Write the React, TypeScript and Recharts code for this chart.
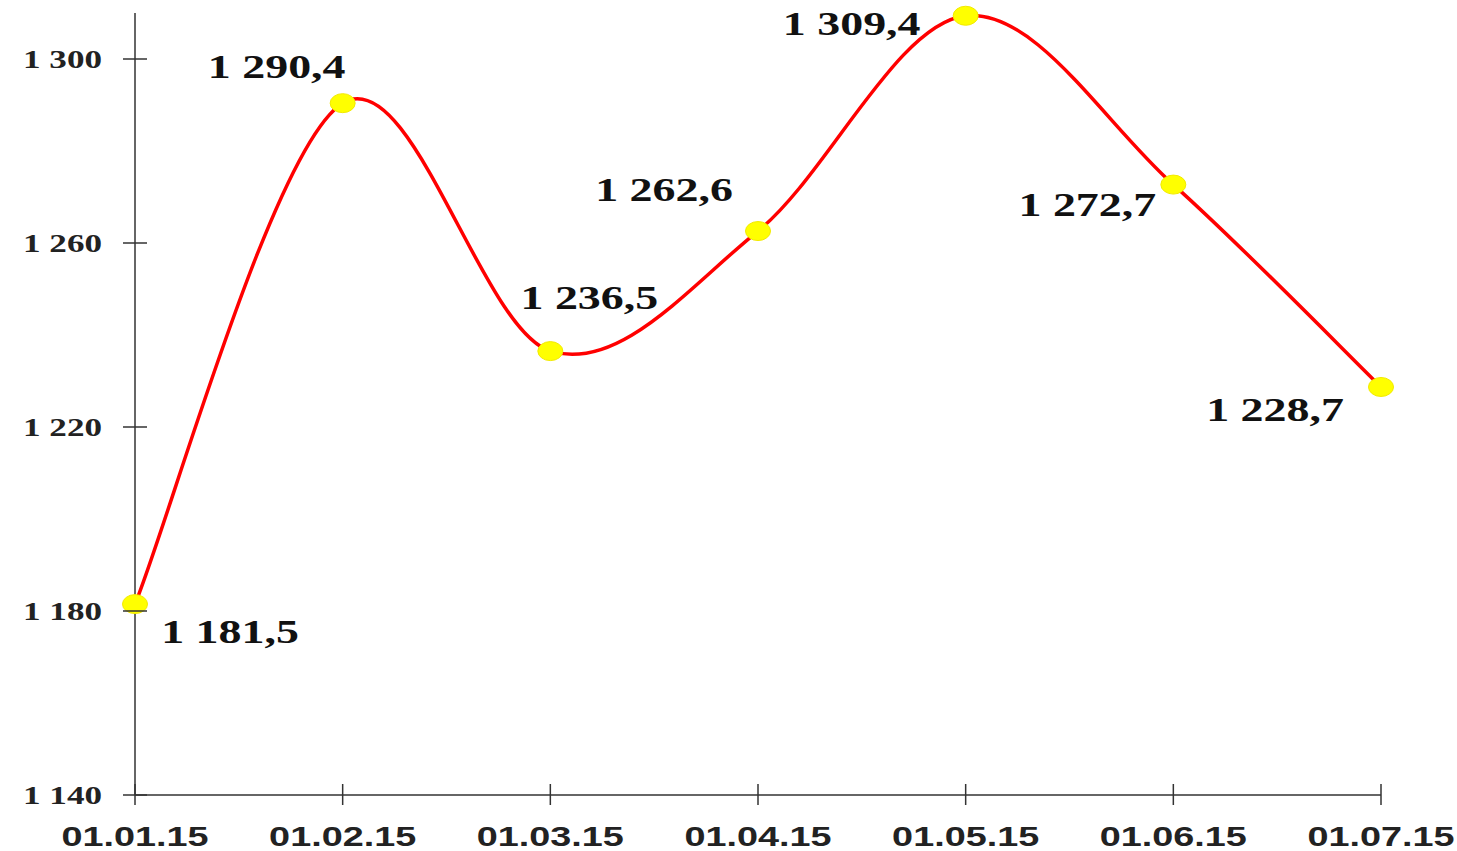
import { LineChart, Line, XAxis, YAxis, LabelList } from 'recharts';

// dates on the x axis and the values at each date
const dates = ['01.01.15', '01.02.15', '01.03.15', '01.04.15', '01.05.15', '01.06.15', '01.07.15'];
const values = [1181.5, 1290.4, 1236.5, 1262.6, 1309.4, 1272.7, 1228.7];
const yTicks = [1140, 1180, 1220, 1260, 1300];

// where each value label sits relative to its point (styling only)
const labelShift = [
  [95, 39],
  [-66, -25],
  [39, -42],
  [-94, -30],
  [-114, 19],
  [-86, 31],
  [-106, 34],
];

const data = dates.map((d, i) => ({ date: d, value: values[i] }));

const STRETCH = 1.35; // the source picture is stretched sideways
const AXIS = '#333';

// thousands with a space, decimals with a comma
const fmt = (v: number, digits: number) => {
  const [int, dec] = v.toFixed(digits).split('.');
  const withSpace = int.replace(/\B(?=(\d{3})+(?!\d))/g, ' ');
  return dec ? `${withSpace},${dec}` : withSpace;
};

// Excel-like smooth line (Catmull-Rom through each point)
const smoothCurve = (context: any) => {
  let pts: number[][] = [];
  return {
    areaStart() {},
    areaEnd() {},
    lineStart() {
      pts = [];
    },
    point(x: number, y: number) {
      pts.push([+x, +y]);
    },
    lineEnd() {
      if (!pts.length) return;
      context.moveTo(pts[0][0], pts[0][1]);
      for (let i = 0; i < pts.length - 1; i++) {
        const p0 = pts[i - 1] || pts[i];
        const p1 = pts[i];
        const p2 = pts[i + 1];
        const p3 = pts[i + 2] || p2;
        context.bezierCurveTo(
          p1[0] + (p2[0] - p0[0]) / 6,
          p1[1] + (p2[1] - p0[1]) / 6,
          p2[0] - (p3[0] - p1[0]) / 6,
          p2[1] - (p3[1] - p1[1]) / 6,
          p2[0],
          p2[1]
        );
      }
    },
  };
};

const XTick = ({ x, y, payload }: any) => (
  <g>
    <line x1={x} x2={x} y1={y - 11} y2={y + 10} stroke={AXIS} strokeWidth={1.5} />
    <text
      transform={`translate(${x},${y + 51}) scale(${STRETCH},1)`}
      textAnchor="middle"
      fontFamily="'Liberation Sans', Arial, sans-serif"
      fontWeight="bold"
      fontSize={28}
      fill="#222"
    >
      {payload.value}
    </text>
  </g>
);

const YTick = ({ x, y, payload }: any) => (
  <g>
    <line x1={x - 12} x2={x + 12} y1={y} y2={y} stroke={AXIS} strokeWidth={1.5} />
    <text
      transform={`translate(${x - 33},${y + 9}) scale(${STRETCH},1)`}
      textAnchor="end"
      fontFamily="'Liberation Serif', 'Times New Roman', serif"
      fontWeight="bold"
      fontSize={26}
      fill="#222"
    >
      {fmt(payload.value, 0)}
    </text>
  </g>
);

const ValueLabel = ({ x, y, value, index }: any) => {
  const [dx, dy] = labelShift[index] || [0, -20];
  return (
    <text
      transform={`translate(${x + dx},${y + dy}) scale(${STRETCH},1)`}
      textAnchor="middle"
      fontFamily="'Liberation Serif', 'Times New Roman', serif"
      fontWeight="bold"
      fontSize={34}
      fill="#111"
    >
      {fmt(value, 1)}
    </text>
  );
};

const YellowDot = ({ cx, cy, index }: any) => (
  <ellipse key={`dot-${index}`} cx={cx} cy={cy} rx={12.5} ry={9.5} fill="#ffff00" stroke="#f2ea00" strokeWidth={1} />
);

export default function App() {
  return (
    <div style={{ position: 'absolute', left: 0, top: 0, background: '#fff' }}>
      <LineChart width={1457} height={851} data={data} margin={{ top: 13, right: 76, bottom: 0, left: 0 }}>
        <XAxis
          dataKey="date"
          interval={0}
          height={56}
          tickSize={0}
          tickMargin={0}
          tickLine={false}
          axisLine={{ stroke: AXIS, strokeWidth: 1.5 }}
          tick={<XTick />}
        />
        <YAxis
          domain={[1140, 1310]}
          ticks={yTicks}
          width={135}
          tickSize={0}
          tickMargin={0}
          tickLine={false}
          axisLine={{ stroke: AXIS, strokeWidth: 1.5 }}
          tick={<YTick />}
        />
        <Line
          dataKey="value"
          type={smoothCurve as any}
          stroke="#ff0000"
          strokeWidth={3.5}
          dot={<YellowDot />}
          activeDot={false}
          isAnimationActive={false}
        >
          <LabelList dataKey="value" content={<ValueLabel />} />
        </Line>
      </LineChart>
    </div>
  );
}
